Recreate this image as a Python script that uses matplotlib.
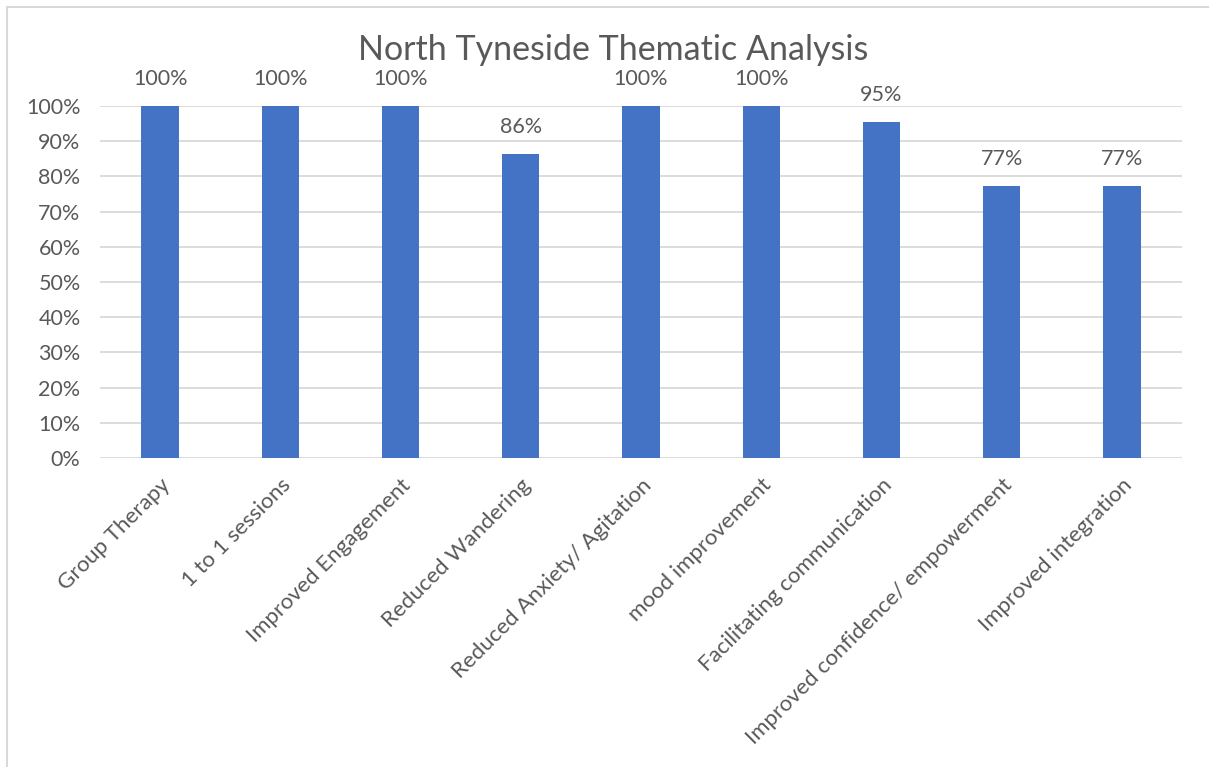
import matplotlib.pyplot as plt
from matplotlib.patches import Rectangle
from matplotlib.ticker import PercentFormatter
from matplotlib.transforms import ScaledTranslation

categories = ['Group Therapy', '1 to 1 sessions', 'Improved Engagement', 'Reduced Wandering',
              'Reduced Anxiety/ Agitation', 'mood improvement', 'Facilitating communication',
              'Improved confidence/ empowerment', 'Improved integration']
values = [1.00, 1.00, 1.00, 0.864, 1.00, 1.00, 0.955, 0.773, 0.773]
labels = ['100%', '100%', '100%', '86%', '100%', '100%', '95%', '77%', '77%']

plt.rcParams['font.family'] = ['Lato', 'DejaVu Sans']
text_col = '#595959'
grid_col = '#d9d9d9'

fig = plt.figure(figsize=(12.09, 7.67), dpi=100)
# chart frame
fig.patches.append(Rectangle((7 / 1209, -0.01), 1.02, 1 - 7 / 767 + 0.01, transform=fig.transFigure,
                             fill=False, edgecolor=grid_col, linewidth=1.5))

ax = fig.add_axes([100 / 1209, 1 - 458 / 767, 1082 / 1209, 352 / 767])
x = range(len(categories))
ax.bar(x, values, width=0.31, color='#4472C4', zorder=3)
ax.set_xlim(-0.5, len(categories) - 0.5)
ax.set_ylim(0, 1)
ax.set_yticks([i / 10 for i in range(11)])
ax.yaxis.set_major_formatter(PercentFormatter(1.0, decimals=0))
ax.grid(axis='y', color=grid_col, linewidth=1.3, zorder=0)
for s in ax.spines.values():
    s.set_visible(False)
ax.tick_params(length=0, labelsize=15.5, labelcolor=text_col)
ax.tick_params(axis='y', pad=14)
ax.set_xticks(list(x))
ax.set_xticklabels(categories, rotation=45, ha='right', rotation_mode='anchor', fontsize=16)
for lab in ax.get_xticklabels():
    lab.set_transform(lab.get_transform() + ScaledTranslation(0.0, -0.12, fig.dpi_scale_trans))

for xi, v, t in zip(x, values, labels):
    ax.annotate(t, (xi, v), xytext=(0, 12), textcoords='offset points', ha='center', va='bottom',
                fontsize=15.5, color=text_col)

fig.text(0.5075, 1 - 50 / 767, 'North Tyneside Thematic Analysis', ha='center', va='center',
         fontsize=24.5, color=text_col)

fig.savefig('out.png', dpi=100)
